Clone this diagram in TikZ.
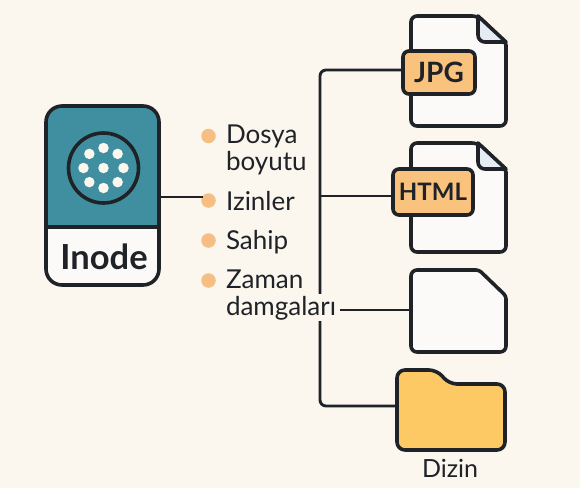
\documentclass[tikz,border=0pt]{standalone}
\usepackage{fontspec}
\usetikzlibrary{calc}
\setmainfont{Lato}
\definecolor{bg}{HTML}{FBF6EE}
\definecolor{ink}{HTML}{1F2328}
\definecolor{teal}{HTML}{3F8FA0}
\definecolor{tagc}{HTML}{F9C27D}
\definecolor{dotc}{HTML}{F6BE82}
\definecolor{folderc}{HTML}{FDC965}
\definecolor{paper}{HTML}{FCFAF8}
\definecolor{foldc}{HTML}{E6ECF4}
\tikzset{
  every node/.style={inner sep=0pt,outer sep=0pt,text=ink},
  shapeline/.style={draw=ink,line width=3.6pt,line join=round},
  conn/.style={draw=ink,line width=2.9pt,rounded corners=6pt},
  straightconn/.style={draw=ink,line width=2.9pt},
  tagbox/.style={draw=ink,line width=3.6pt,fill=tagc,rounded corners=6pt,font=\bfseries,anchor=center},
  bullet/.style={circle,fill=dotc,minimum size=14.5pt},
  hole/.style={circle,fill=bg,minimum size=10.5pt},
  itemtext/.style={anchor=base west,font=\fontsize{26}{26}\selectfont},
}
\begin{document}
\begin{tikzpicture}[x=1pt,y=-1pt]
\useasboundingbox[fill=bg] (0,0) rectangle (580,488);
\coordinate (trunkA) at (320,70);
\coordinate (trunkB) at (320,406);
\coordinate (trunkH) at (320,196);
% inode card
\fill[paper,rounded corners=16pt] (46,200) -- (46,285) -- (159,285) -- (159,200) -- cycle;
\fill[teal,rounded corners=16pt] (46,227) [sharp corners] -- (46,200) [rounded corners=16pt] -- (46,106) -- (159,106) -- (159,200) [sharp corners] -- (159,227) -- cycle;
\draw[shapeline,rounded corners=16pt] (102,106) -- (159,106) -- (159,285) -- (46,285) -- (46,106) -- cycle;
\coordinate (card) at (159,197);
\draw[shapeline] (46,227) -- (159,227);
\node[draw=ink,line width=3.6pt,circle,minimum size=70pt] (disc) at (103.5,168) {};
\foreach \i in {0,45,...,315}{
  \node[hole] at ($(disc.center)+(\i:20)$) {};
}
\node[hole] (hub) at (disc.center) {};
\node[anchor=base,font=\fontsize{34.5}{34.5}\selectfont\bfseries] (inode) at (104,269) {Inode};
% list
\node[bullet] (b1) at (208.5,136) {};
\node[bullet] (b2) at (208.5,200.5) {};
\node[bullet] (b3) at (208.5,240.5) {};
\node[bullet] (b4) at (208.5,280.5) {};
\coordinate (b2in) at (203,197);
\draw[straightconn] (card) -- (b2in);
% files
\draw[shapeline,fill=paper,rounded corners=6pt] (411,16) -- (478,16) [rounded corners=2pt] -- (506,43) [rounded corners=6pt] -- (506,126) -- (411,126) -- cycle;
\draw[shapeline,fill=foldc] (478,16) -- (478,35) .. controls (478,39) and (481,42) .. (485,42) -- (506,42) -- cycle;
\draw[shapeline,fill=paper,rounded corners=6pt] (411,143) -- (478,143) [rounded corners=2pt] -- (506,170) [rounded corners=6pt] -- (506,252) -- (411,252) -- cycle;
\draw[shapeline,fill=foldc] (478,143) -- (478,162) .. controls (478,166) and (481,169) .. (485,169) -- (506,169) -- cycle;
\draw[shapeline,fill=paper,rounded corners=6pt] (411,270) [rounded corners=3pt] -- (479,270) -- (506,296) [rounded corners=6pt] -- (506,352) -- (411,352) -- cycle;
\coordinate (f3) at (411,310);
% folder
\draw[shapeline,fill=folderc,rounded corners=8pt] (397,450) -- (397,370) -- (437,370) -- (449,384) -- (505,384) -- (505,450) -- cycle;
\coordinate (folder) at (397,406);
% tags
\node[tagbox,font=\fontsize{28}{28}\selectfont\bfseries,minimum width=72pt,minimum height=43pt] (jpg) at (439,72.5) {JPG};
\node[tagbox,font=\fontsize{24}{24}\selectfont\bfseries,minimum width=80pt,minimum height=46pt] (html) at (433,192) {HTML};
% connectors
\draw[conn] (folder) -- (trunkB) -- (trunkA) -- (jpg.west |- trunkA);
\draw[straightconn] (trunkH) -- (html.west |- trunkH);
% texts
\node[itemtext] (t1) at (226,143) {Dosya};
\node[itemtext] (t1b) at (226,170) {boyutu};
\node[itemtext] (t2) at (226,210) {Izinler};
\node[itemtext] (t3) at (226,249) {Sahip};
\node[itemtext] (t4) at (226,288) {Zaman};
\node[itemtext,fill=bg,text depth=6pt,text height=21pt,inner xsep=3pt] (t4b) at (223,315) {damgaları};
\draw[straightconn] (t4b.east |- f3) ++(1,0) -- (f3);
\node[anchor=base,font=\fontsize{25}{25}\selectfont] (dizin) at (450,477) {Dizin};
\end{tikzpicture}
\end{document}
